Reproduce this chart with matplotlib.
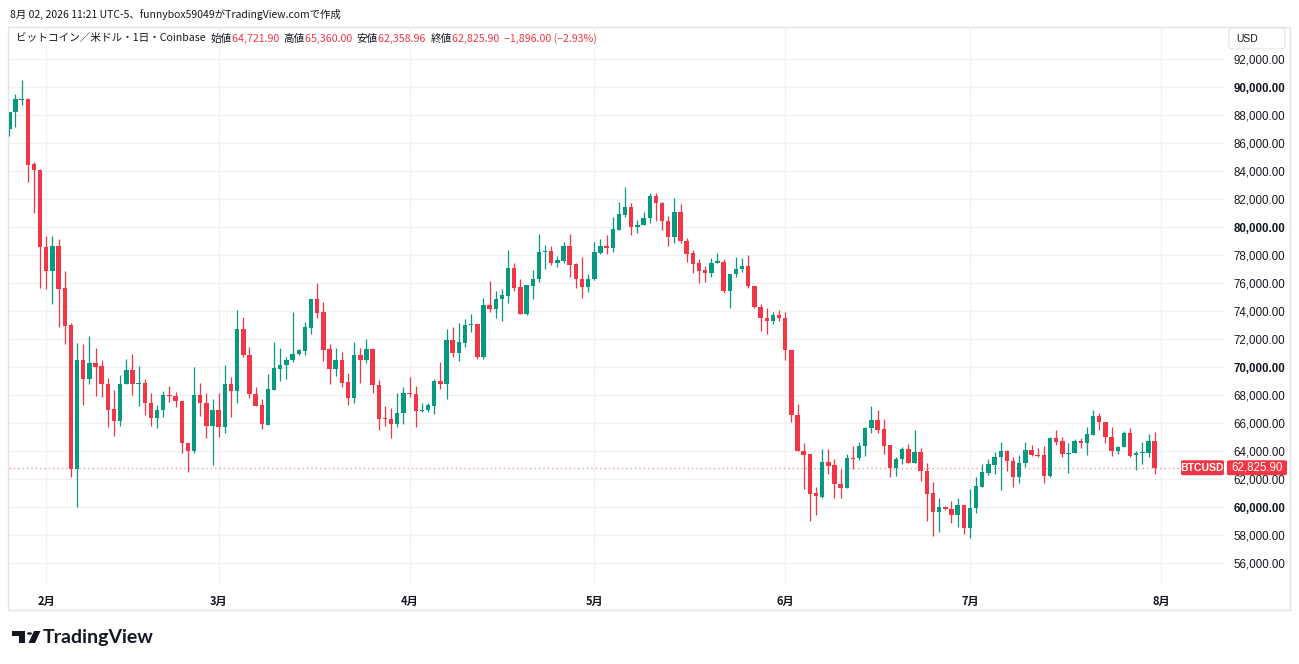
import matplotlib
matplotlib.use('Agg')
import matplotlib.pyplot as plt
import matplotlib.dates as mdates
import numpy as np
import pandas as pd
from matplotlib.patches import Rectangle, FancyBboxPatch, Polygon, Circle
from matplotlib.ticker import FuncFormatter

W, H = 1299, 664
GREEN = '#089981'
RED = '#F23645'
TXT = '#131722'
GRID = '#f0f1f3'
CJK = ['Noto Sans CJK JP', 'DejaVu Sans']
LAT = ['Liberation Sans', 'DejaVu Sans']

# ---------------- data ----------------
dates = pd.date_range('2026-01-26', periods=187, freq='D')

opens = [87000, 88210, 89100, 89143, 84520, 84120, 78620, 76860, 78670, 75640,
         73020, 62760, 70520, 69190, 70310, 70100, 68810, 67020, 66190, 68810,
         69810, 68800, 68860, 67480, 66400, 66950, 68000, 67950, 67620, 64620,
         64050, 68000, 67480, 65830, 66950, 65710, 68810, 68330, 72710, 70900,
         68100, 67290, 65910, 68380, 69900, 70190, 70520, 70930, 71190, 72830,
         74880, 73950, 71290, 69880, 70520, 68930, 67830, 70860, 70520, 71310,
         68760, 66380, 66310, 65930, 66710, 68190, 68100, 66860, 66950, 67260,
         69020, 68830, 71950, 71050, 71760, 73000, 73100, 70760, 74450, 74170,
         74860, 75120, 77100, 75710, 73790, 75810, 76290, 78200, 78290, 77430,
         77620, 78690, 77380, 76330, 75760, 76290, 78190, 78670, 78550, 79810,
         80900, 81430, 80000, 80140, 80640, 82240, 81760, 80480, 79290, 81100,
         79050, 78140, 77430, 76950, 76760, 77430, 77550, 75450, 76640, 77000,
         77240, 75810, 74330, 73550, 73310, 73740, 73550, 71260, 66620, 64000,
         63790, 61020, 60740, 63260, 63000, 61690, 61400, 63550, 63520, 64380,
         65690, 66210, 65570, 64430, 62810, 63450, 64190, 63170, 63950, 62620,
         61000, 59690, 60020, 59900, 59430, 60170, 58500, 59930, 61480, 62480,
         63020, 63570, 64020, 63330, 62190, 63140, 64100, 63740, 63740, 62240,
         64980, 64710, 63780, 63900, 64760, 64620, 65190, 66520, 66070, 65000,
         64050, 64290, 65330, 63740, 63890, 63900, 64721.90]
highs = [88260, 89520, 90520, 89240, 84640, 84190, 79380, 79380, 79170, 76880,
         73140, 71710, 71640, 72240, 71380, 70520, 69240, 68380, 69450, 70570,
         70950, 70100, 69140, 68190, 67310, 68290, 68670, 68210, 67620, 64620,
         70050, 68860, 68190, 67710, 68190, 70140, 69290, 74100, 73570, 71430,
         68570, 67710, 69520, 71810, 71360, 70760, 73980, 71300, 73260, 74880,
         76050, 74690, 71670, 71380, 71100, 69570, 71830, 71360, 72020, 71310,
         69100, 67240, 67070, 68140, 68570, 69290, 68670, 67430, 67480, 69140,
         70400, 72740, 72860, 73190, 73450, 73810, 73100, 74980, 76170, 75450,
         75570, 78380, 77480, 76290, 75900, 76950, 79520, 78740, 78670, 77980,
         78980, 79520, 77430, 77900, 76640, 78950, 79140, 79450, 80710, 81810,
         82860, 81710, 80520, 81120, 82480, 82430, 81830, 80810, 82070, 81670,
         79210, 78380, 77710, 77240, 77790, 78140, 77710, 76640, 77860, 77790,
         78020, 75810, 74520, 74260, 73950, 74120, 73950, 71260, 67400, 64600,
         63830, 61450, 64190, 64190, 63450, 62760, 63830, 64360, 64690, 65740,
         67260, 66930, 66330, 64430, 63600, 64310, 64550, 65500, 64210, 63140,
         61830, 60640, 60080, 60480, 60670, 60170, 61290, 62140, 63100, 63430,
         63980, 64670, 64100, 63620, 63740, 64640, 64450, 64260, 64380, 65050,
         65520, 65050, 64570, 64860, 64930, 65760, 66950, 66760, 66070, 65710,
         64380, 65480, 65640, 64050, 64690, 65240, 65360.00]
lows = [86550, 87190, 88760, 83260, 81000, 75670, 75620, 74500, 72860, 71670,
        62190, 60050, 67310, 68830, 67930, 67860, 65710, 65120, 65830, 68810,
        68020, 67260, 66600, 65810, 65640, 66450, 67550, 67140, 63900, 62550,
        63900, 66550, 64980, 63050, 65050, 65290, 66430, 67430, 70710, 67790,
        67260, 65620, 65860, 68380, 69020, 69190, 70400, 70900, 70880, 72360,
        73500, 70480, 68790, 69380, 68570, 67330, 67480, 68900, 70290, 68140,
        65520, 65810, 64980, 65760, 65950, 67900, 65710, 66810, 66810, 66640,
        68430, 67710, 70710, 70480, 71430, 72550, 70570, 70570, 73930, 73550,
        73330, 74570, 75480, 73790, 73740, 74860, 76120, 77000, 77310, 77190,
        77430, 76480, 75690, 74930, 75360, 76240, 78100, 78100, 78260, 79810,
        80710, 79450, 79570, 80140, 80290, 80480, 79810, 78670, 78900, 78900,
        77550, 76710, 76050, 76120, 76480, 77430, 75290, 74210, 76430, 76830,
        75640, 74210, 72620, 72380, 73120, 73310, 70550, 66100, 64000, 61330,
        59020, 59430, 60670, 62400, 60690, 60690, 61400, 62760, 63400, 63670,
        65310, 65310, 63830, 62170, 62210, 63120, 63170, 63170, 61880, 59050,
        57980, 58260, 59810, 58860, 58620, 58100, 57790, 59570, 61480, 62310,
        62380, 61240, 62620, 61480, 61710, 62900, 63670, 63620, 61760, 62190,
        64450, 63570, 62480, 63860, 64210, 63740, 65190, 65520, 64620, 63670,
        63810, 64290, 63570, 62670, 63100, 63570, 62358.96]
closes = [88210, 89140, 89150, 84476, 84100, 78620, 76860, 78670, 75620, 72980,
          62760, 70520, 69190, 70310, 70050, 68810, 66980, 66190, 68810, 69810,
          68810, 68860, 67480, 66400, 66950, 68000, 67950, 67620, 64570, 64050,
          68000, 67480, 65830, 66950, 65710, 68810, 68330, 72710, 70880, 68070,
          67260, 65930, 68430, 69930, 70190, 70550, 70950, 71240, 72860, 74880,
          73900, 71240, 69880, 70520, 68900, 67830, 70860, 70520, 71290, 68740,
          66330, 66330, 65930, 66710, 68190, 68070, 66860, 66930, 67290, 69020,
          68830, 71950, 71050, 71810, 73020, 73100, 70760, 74450, 74170, 74860,
          75170, 77100, 75690, 73790, 75860, 76330, 78240, 78290, 77430, 77670,
          78690, 77310, 76290, 75760, 76290, 78240, 78670, 78550, 79860, 80950,
          81430, 80000, 80170, 80640, 82240, 81710, 80450, 79290, 81100, 79020,
          78100, 77380, 76900, 76760, 77430, 77600, 75450, 76640, 77000, 77240,
          75810, 74330, 73500, 73330, 73740, 73550, 71260, 66570, 64000, 63740,
          60980, 60790, 63260, 62980, 61670, 61400, 63500, 63480, 64380, 65690,
          66210, 65550, 64400, 62810, 63480, 64190, 63170, 63930, 62620, 60950,
          59690, 60020, 59880, 59430, 60170, 58500, 59930, 61520, 62550, 63100,
          63620, 64020, 63310, 62140, 63190, 64100, 63710, 63670, 62240, 64980,
          64690, 63780, 63900, 64760, 64620, 65240, 66520, 66070, 65000, 64050,
          64290, 65330, 63670, 63900, 63920, 64760, 62825.90]

price_ticks = list(range(56000, 92001, 2000))
bold_ticks = [60000, 70000, 80000, 90000]
month_starts = pd.to_datetime(['2026-02-01', '2026-03-01', '2026-04-01', '2026-05-01',
                               '2026-06-01', '2026-07-01', '2026-08-01'])
month_labels = ['2月', '3月', '4月', '5月', '6月', '7月', '8月']

last_price = 62825.90
title_line = '8月 02, 2026 11:21 UTC-5、funnybox59049がTradingView.comで作成'
symbol_text = 'ビットコイン／米ドル・1日・Coinbase'
ohlc_labels = ['始値', '高値', '安値', '終値']
ohlc_values = ['64,721.90', '65,360.00', '62,358.96', '62,825.90']
change_text = '−1,896.00 (−2.93%)'

# ---------------- figure ----------------
fig = plt.figure(figsize=(W / 100, H / 100), dpi=100)
fig.patch.set_facecolor('white')


def fx(x):
    return x / W


def fy(y):
    return 1 - y / H


# outer frame
fig.add_artist(Rectangle((fx(8), fy(610)), fx(1290) - fx(8), fy(27) - fy(610),
                         transform=fig.transFigure, fill=False,
                         edgecolor='#e0e3eb', linewidth=1, zorder=0))

ax = fig.add_axes([fx(9), fy(585), fx(1225) - fx(9), fy(27) - fy(585)])
ax.set_facecolor('none')
for s in ax.spines.values():
    s.set_visible(False)

x = mdates.date2num(dates)
o = np.array(opens, float)
h = np.array(highs, float)
l = np.array(lows, float)
c = np.array(closes, float)
up = c >= o
cols = np.where(up, GREEN, RED)

ax.vlines(x, l, h, colors=cols, linewidth=0.9, zorder=3)
body_bottom = np.minimum(o, c)
body_h = np.maximum(np.abs(c - o), 75)
ax.bar(x, body_h, bottom=body_bottom, width=0.72, color=cols, linewidth=0, zorder=4)

x0 = x[0] - 0.05
ax.set_xlim(x0, x0 + 197.47)
ax.set_ylim(54450, 94307)

ax.set_yticks(price_ticks)
ax.set_xticks(mdates.date2num(month_starts))
ax.set_xticklabels(month_labels)
ax.grid(True, color=GRID, linewidth=1, zorder=0)
ax.set_axisbelow(True)

ax.yaxis.tick_right()
ax.yaxis.set_major_formatter(FuncFormatter(lambda v, p: f'{v:,.2f}'))
ax.tick_params(axis='y', length=0, pad=6, labelsize=8.3, labelcolor=TXT)
ax.tick_params(axis='x', length=0, pad=7, labelsize=8.0, labelcolor=TXT)
for t in ax.get_yticklabels():
    t.set_fontfamily(LAT)
for t, v in zip(ax.get_yticklabels(), price_ticks):
    if v in bold_ticks:
        t.set_fontweight('bold')
for t in ax.get_xticklabels():
    t.set_fontfamily(CJK)
    t.set_fontweight('bold')

# last price dotted line
ax.axhline(last_price, color=RED, linewidth=0.9, linestyle=(0, (1, 2.5)), alpha=0.6, zorder=2)

# price boxes (pixel coordinates)
yc = 87.3 + (90000 - last_price) * 0.014
fig.add_artist(FancyBboxPatch((fx(1181), fy(yc + 7.5)), fx(1224) - fx(1181), fy(yc - 7.5) - fy(yc + 7.5),
                              boxstyle='round,pad=0,rounding_size=0.002', transform=fig.transFigure,
                              facecolor=RED, edgecolor='none', zorder=10))
fig.text(fx(1202.5), fy(yc), 'BTCUSD', color='white', fontsize=7.6, fontfamily=LAT,
         fontweight='bold', ha='center', va='center', zorder=11)
fig.add_artist(FancyBboxPatch((fx(1227), fy(yc + 7.5)), fx(1287) - fx(1227), fy(yc - 7.5) - fy(yc + 7.5),
                              boxstyle='round,pad=0,rounding_size=0.002', transform=fig.transFigure,
                              facecolor=RED, edgecolor='none', zorder=10))
fig.text(fx(1257), fy(yc), f'{last_price:,.2f}', color='white', fontsize=8.3, fontfamily=LAT,
         ha='center', va='center', zorder=11)

# USD box
fig.add_artist(FancyBboxPatch((fx(1229), fy(49)), fx(1285) - fx(1229), fy(28) - fy(49),
                              boxstyle='round,pad=0,rounding_size=0.004', transform=fig.transFigure,
                              facecolor='white', edgecolor='#e0e3eb', linewidth=0.8, zorder=10))
fig.text(fx(1236), fy(38.5), 'USD', color=TXT, fontsize=7.5, fontfamily=LAT,
         ha='left', va='center', zorder=11)

# top title line
fig.text(fx(10), fy(14), title_line, color=TXT, fontsize=7.5, fontfamily=CJK,
         ha='left', va='center')

# header line with sequential pieces
fig.canvas.draw()
renderer = fig.canvas.get_renderer()
pieces = [(symbol_text + '  ', TXT)]
for lab, val in zip(ohlc_labels, ohlc_values):
    pieces.append((lab, TXT))
    pieces.append((val + '  ', RED))
pieces.append((change_text, RED))
cur = 16
for txt, col in pieces:
    t = fig.text(fx(cur), fy(38.5), txt, color=col, fontsize=7.65, fontfamily=CJK,
                 ha='left', va='center')
    bb = t.get_window_extent(renderer=renderer)
    cur += bb.width

# TradingView logo
logo_col = '#131722'
fig.add_artist(Rectangle((fx(12), fy(636)), fx(25) - fx(12), fy(631) - fy(636),
                         transform=fig.transFigure, facecolor=logo_col, edgecolor='none'))
fig.add_artist(Rectangle((fx(19), fy(643)), fx(25) - fx(19), fy(631) - fy(643),
                         transform=fig.transFigure, facecolor=logo_col, edgecolor='none'))
fig.add_artist(Circle((fx(29.5), fy(633.5)), radius=fx(2.5), transform=fig.transFigure,
                      facecolor=logo_col, edgecolor='none'))
fig.add_artist(Polygon([(fx(34), fy(631)), (fx(40.5), fy(631)), (fx(35), fy(643)), (fx(28.5), fy(643))],
                       closed=True, transform=fig.transFigure, facecolor=logo_col, edgecolor='none'))
fig.text(fx(43), fy(637), 'TradingView', color=logo_col, fontsize=14, fontfamily=['Lato', 'DejaVu Sans'],
         fontweight='bold', ha='left', va='center')

fig.savefig('out.png', dpi=100, facecolor='white')
